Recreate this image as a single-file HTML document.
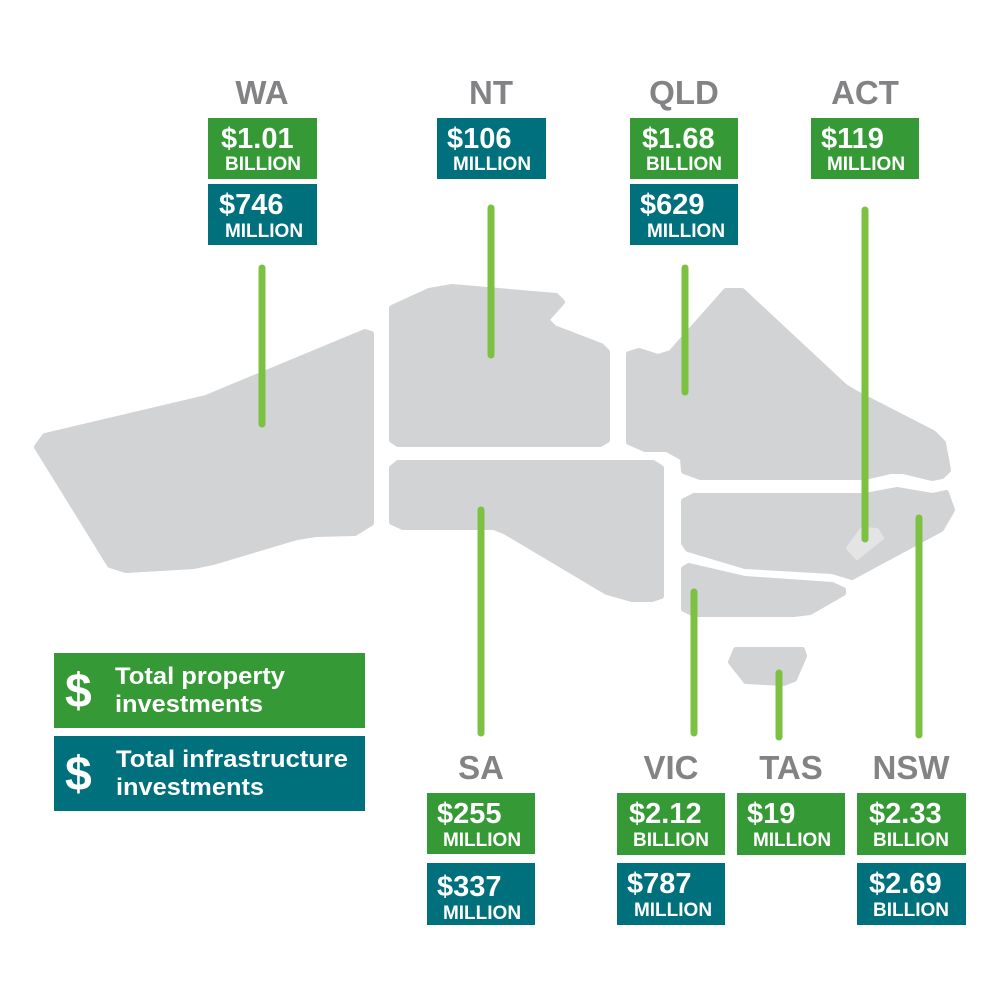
<!DOCTYPE html>
<html><head><meta charset="utf-8"><style>
html,body{margin:0;padding:0;background:#fff}
svg{display:block}
text{font-family:"Liberation Sans",sans-serif;font-weight:bold}
.lab{fill:#838386;font-size:33px;text-anchor:middle}
.num{fill:#fff;font-size:29px}
.sub{fill:#fff;font-size:19px;text-anchor:middle}
.g{fill:#359a35}.t{fill:#00707c}
.m{fill:#d2d3d5;stroke:#d2d3d5;stroke-width:6;stroke-linejoin:round}
.ln{stroke:#7dc142;stroke-width:7;stroke-linecap:round;fill:none}
</style></head><body>
<svg width="1000" height="1000" viewBox="0 0 1000 1000" xmlns="http://www.w3.org/2000/svg">
<path class="m" d="M365,332 L206,398 L45,436 L37,447 L110,565 L126,570 L194,566 L213,562 L297,537 L316,534 L355,533 L371,523 L371,334 Z"/>
<path class="m" d="M392,308 L429,291 L452,287 L556,296 L562,302 L546,320 L554,328 L601,346 L607,352 L607,440 L600,444 L398,444 L392,440 Z"/>
<path class="m" d="M629,354 L639,351 L658,357 L671,353 L726,291 L742,291 L845,387 L855,393 L933,433 L943,443 L948,470 L942,476 L932,478 L903,471 L890,471 L865,477 L700,477 L684,471 L683,458 L667,449 L645,449 L629,442 Z"/>
<path class="m" d="M398,463 L653,463 L661,468 L661,596 L652,599 L632,599 L607,592 L506,532 L494,527 L403,527 L392,522 L392,468 Z"/>
<path class="m" d="M694,496 L865,496 L897,490 L932,496 L946,493 L952,510 L941,529 L852,577 L832,571 L745,566 L688,549 L684,543 L684,501 Z"/>
<path class="m" d="M689,566 L745,579 L832,585 L843,590 L843,593 L810,612 L794,614 L694,614 L684,609 L684,569 Z"/>
<path class="m" d="M736,650 L802,650 L804,656 L794,679 L784,683 L746,681 L731,662 Z"/>
<path d="M862,529 L877,530 L882,538 L857,558 L848,548 Z" fill="#e4e4e5" stroke="#e4e4e5" stroke-width="4" stroke-linejoin="round"/>
<line class="ln" x1="262" y1="268" x2="262" y2="424"/>
<line class="ln" x1="491" y1="208" x2="491" y2="355"/>
<line class="ln" x1="685" y1="268" x2="685" y2="392"/>
<line class="ln" x1="865" y1="210" x2="865" y2="539"/>
<line class="ln" x1="481" y1="510" x2="481" y2="733"/>
<line class="ln" x1="694" y1="592" x2="694" y2="733"/>
<line class="ln" x1="779" y1="673" x2="779" y2="737"/>
<line class="ln" x1="919" y1="518" x2="919" y2="735"/>
<text class="lab" x="262" y="104">WA</text>
<text class="lab" x="491" y="104">NT</text>
<text class="lab" x="684" y="104">QLD</text>
<text class="lab" x="865" y="104">ACT</text>
<rect class="g" x="208" y="118" width="109" height="61"/>
<text class="num" x="221" y="148">$1.01</text><text class="sub" x="263" y="170">BILLION</text>
<rect class="t" x="208" y="184" width="109" height="61"/>
<text class="num" x="219" y="214">$746</text><text class="sub" x="264" y="237">MILLION</text>
<rect class="t" x="437" y="118" width="109" height="61"/>
<text class="num" x="447" y="148">$106</text><text class="sub" x="492" y="170">MILLION</text>
<rect class="g" x="630" y="118" width="108" height="61"/>
<text class="num" x="642" y="148">$1.68</text><text class="sub" x="684" y="170">BILLION</text>
<rect class="t" x="630" y="184" width="108" height="61"/>
<text class="num" x="640" y="214">$629</text><text class="sub" x="686" y="237">MILLION</text>
<rect class="g" x="811" y="118" width="108" height="61"/>
<text class="num" x="821" y="148">$119</text><text class="sub" x="866" y="170">MILLION</text>
<text class="lab" x="481" y="779">SA</text>
<text class="lab" x="671" y="779">VIC</text>
<text class="lab" x="791" y="779">TAS</text>
<text class="lab" x="911" y="779">NSW</text>
<rect class="g" x="427" y="793" width="108" height="61"/>
<text class="num" x="437" y="823">$255</text><text class="sub" x="482" y="846">MILLION</text>
<rect class="t" x="427" y="863" width="108" height="62"/>
<text class="num" x="437" y="896">$337</text><text class="sub" x="482" y="919">MILLION</text>
<rect class="g" x="617" y="793" width="108" height="62"/>
<text class="num" x="629" y="823">$2.12</text><text class="sub" x="671" y="846">BILLION</text>
<rect class="t" x="617" y="863" width="108" height="62"/>
<text class="num" x="627" y="893">$787</text><text class="sub" x="673" y="916">MILLION</text>
<rect class="g" x="737" y="793" width="108" height="62"/>
<text class="num" x="747" y="823">$19</text><text class="sub" x="792" y="846">MILLION</text>
<rect class="g" x="857" y="793" width="109" height="62"/>
<text class="num" x="869" y="823">$2.33</text><text class="sub" x="911" y="846">BILLION</text>
<rect class="t" x="857" y="863" width="109" height="62"/>
<text class="num" x="869" y="893">$2.69</text><text class="sub" x="911" y="916">BILLION</text>
<rect class="g" x="54" y="653" width="311" height="75"/>
<text x="65" y="707" fill="#fff" font-size="48">$</text>
<text x="115" y="684" fill="#fff" font-size="24" textLength="170" lengthAdjust="spacingAndGlyphs">Total property</text>
<text x="115" y="712" fill="#fff" font-size="24" textLength="148" lengthAdjust="spacingAndGlyphs">investments</text>
<rect class="t" x="54" y="736" width="311" height="75"/>
<text x="65" y="790" fill="#fff" font-size="48">$</text>
<text x="116" y="767" fill="#fff" font-size="24" textLength="232" lengthAdjust="spacingAndGlyphs">Total infrastructure</text>
<text x="116" y="795" fill="#fff" font-size="24" textLength="148" lengthAdjust="spacingAndGlyphs">investments</text>
</svg>
</body></html>
